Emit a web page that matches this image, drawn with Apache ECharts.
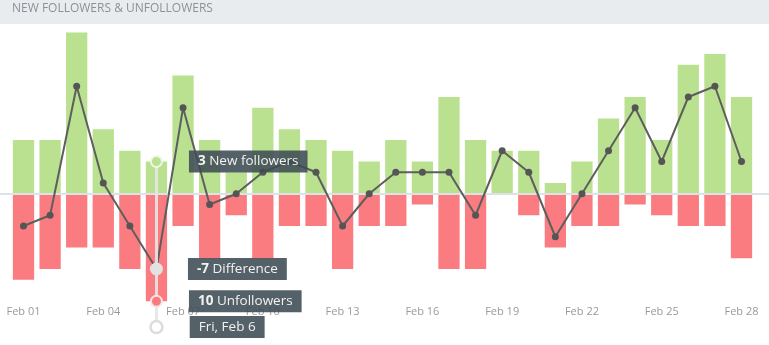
<!DOCTYPE html>
<html><head><meta charset="utf-8">
<script src="https://cdn.jsdelivr.net/npm/echarts@6/dist/echarts.min.js"></script>
<style>html,body{margin:0;padding:0;background:#fff}#c{width:769px;height:345px}</style>
</head><body><div id="c"></div>
<script>
const days = ['Feb 01','Feb 02','Feb 03','Feb 04','Feb 05','Feb 06','Feb 07','Feb 08','Feb 09','Feb 10',
  'Feb 11','Feb 12','Feb 13','Feb 14','Feb 15','Feb 16','Feb 17','Feb 18','Feb 19','Feb 20',
  'Feb 21','Feb 22','Feb 23','Feb 24','Feb 25','Feb 26','Feb 27','Feb 28'];
const newFollowers = [5,5,15,6,4,3,11,5,2,8,6,5,4,3,5,3,9,5,4,4,1,3,7,9,5,12,13,9];
const unfollowers  = [8,7,5,5,7,10,3,6,2,6,3,3,7,3,3,1,7,7,0,2,5,3,3,1,2,3,3,6];
const difference   = [-3,-2,10,1,-3,-7,8,-1,0,2,3,2,-3,0,2,2,2,-2,4,2,-4,0,4,8,3,9,10,3];
const xTickLabels = ['Feb 01','Feb 04','Feb 07','Feb 10','Feb 13','Feb 16','Feb 19','Feb 22','Feb 25','Feb 28'];
const highlightIndex = 5;
const highlightDate = 'Fri, Feb 6';
const titleText = 'NEW FOLLOWERS & UNFOLLOWERS';

const Y_MIN = -13, Y_MAX = 15, PIN_VALUE = -12.4;
const hi = highlightIndex, hd = days[hi];
const font = 'Open Sans';
const boxLabel = (dist) => ({
  show: true, position: 'right', distance: dist,
  backgroundColor: 'rgba(62,75,83,0.88)', padding: [4, 9, 4, 9],
  color: '#f2f2f2', fontSize: 13.5, lineHeight: 14, fontFamily: font,
  rich: { b: { fontWeight: 'bold', color: '#f2f2f2', fontSize: 13.5, lineHeight: 14, fontFamily: font } }
});

const chart = echarts.init(document.getElementById('c'), null, {renderer: 'canvas'});
chart.setOption({
  animation: false,
  backgroundColor: '#fff',
  graphic: [{ type: 'rect', left: 0, top: 0, shape: { width: 769, height: 24 }, style: { fill: '#e9ecef' }, z: 0 }],
  title: { text: titleText, left: 12, top: 3, padding: 0,
    textStyle: { fontSize: 12, color: '#8a9298', fontWeight: 'normal', fontFamily: font } },
  grid: [
    { left: 10.2, right: 14.2, top: 32.5, bottom: 11.5 },
    { left: 0, right: 0, top: 32.5, bottom: 11.5 }
  ],
  xAxis: [
    { type: 'category', data: days, gridIndex: 0, offset: -32.3,
      axisLine: { show: false }, axisTick: { show: false },
      axisLabel: { interval: (i, v) => xTickLabels.includes(v), margin: 5, color: '#9a9a9a', fontSize: 11, fontFamily: font },
      splitLine: { show: false } },
    { type: 'value', gridIndex: 1, min: 0, max: 1, z: 3,
      axisLine: { show: true, onZero: true, lineStyle: { color: '#dde2e6', width: 2 } },
      axisTick: { show: false }, axisLabel: { show: false }, splitLine: { show: false } }
  ],
  yAxis: [
    { type: 'value', gridIndex: 0, min: Y_MIN, max: Y_MAX, show: false, splitLine: { show: false } },
    { type: 'value', gridIndex: 1, min: Y_MIN, max: Y_MAX, show: false, splitLine: { show: false } }
  ],
  series: [
    { name: 'New followers', type: 'bar', data: newFollowers, barWidth: '80%', barGap: '-100%',
      itemStyle: { color: '#bae190' }, z: 2, silent: true,
      markLine: { silent: true, z: 8, symbol: ['none', 'none'], label: { show: false },
        lineStyle: { color: '#e6e6e6', width: 3, type: 'solid', opacity: 0.9 },
        data: [[{ coord: [hd, newFollowers[hi]] }, { coord: [hd, PIN_VALUE] }]] } },
    { name: 'Unfollowers', type: 'bar', data: unfollowers.map(v => -v), barWidth: '80%', barGap: '-100%',
      itemStyle: { color: '#fa7c80' }, z: 2, silent: true },
    { name: 'Difference', type: 'line', data: difference, z: 4, silent: true,
      symbol: 'circle', symbolSize: 7, lineStyle: { color: '#5e5e5e', width: 2 }, itemStyle: { color: '#555' },
      markPoint: { silent: true, z: 10, symbol: 'circle',
        data: [
          { coord: [hd, newFollowers[hi]], symbolSize: 11,
            itemStyle: { color: '#bae190', borderColor: '#eef6e4', borderWidth: 2 },
            label: Object.assign(boxLabel(26), { formatter: '{b|' + newFollowers[hi] + '} New followers' }) },
          { coord: [hd, difference[hi]], symbolSize: 13,
            itemStyle: { color: '#e2e2e2' },
            label: Object.assign(boxLabel(25), { formatter: '{b|' + difference[hi] + '} Difference' }) },
          { coord: [hd, -unfollowers[hi]], symbolSize: 11,
            itemStyle: { color: '#fa7c80', borderColor: '#fbe4e4', borderWidth: 2 },
            label: Object.assign(boxLabel(26), { formatter: '{b|' + unfollowers[hi] + '} Unfollowers' }) },
          { coord: [hd, PIN_VALUE], symbolSize: 12,
            itemStyle: { color: '#fff', borderColor: '#dcdcdc', borderWidth: 2.5 },
            label: Object.assign(boxLabel(26), { formatter: highlightDate }) }
        ] } }
  ]
});
</script></body></html>
